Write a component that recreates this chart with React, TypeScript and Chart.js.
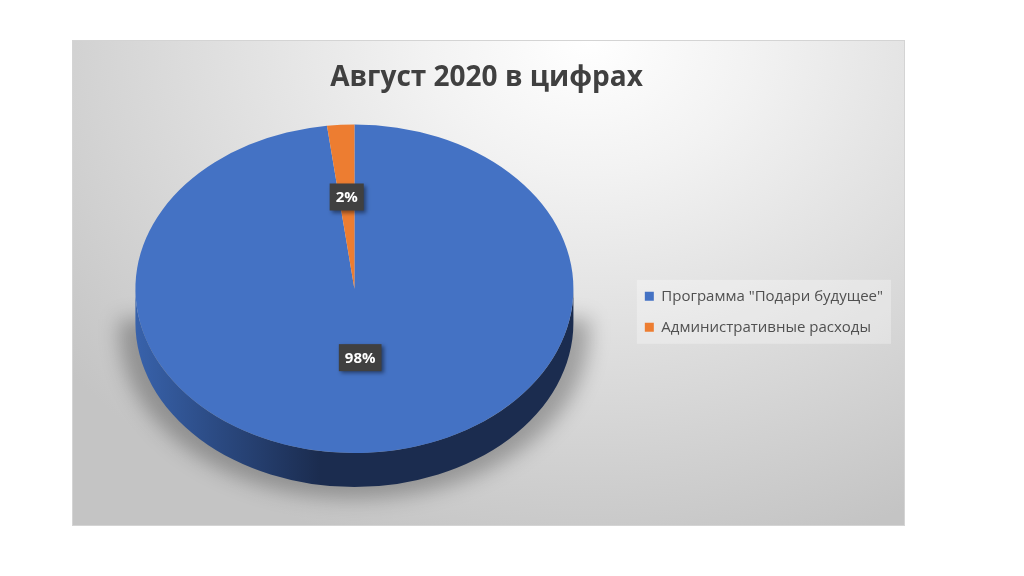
import { useEffect, useRef } from 'react';
import { Chart, PieController, ArcElement, Legend, Title } from 'chart.js';

Chart.register(PieController, ArcElement, Legend, Title);

const chartTitle = 'Август 2020 в цифрах';
const categories = ['Программа "Подари будущее"', 'Административные расходы'];
const values = [98, 2];
const colors = ['#4472C4', '#ED7D31'];
const sideLight = ['#3862ab', '#c0651f'];
const sideDark = ['#1b2c4f', '#7a3d12'];

// 3D look
const TILT = 0.75;
const DEPTH = 34;
const LABEL_POS = [0.42, 0.56];
const LEGEND_SHIFT = 23;

const pie3d = {
  id: 'pie3d',
  afterLayout(chart: any) {
    const lg = chart.legend;
    if (lg) {
      lg.top += LEGEND_SHIFT;
      lg.bottom += LEGEND_SHIFT;
    }
  },
  beforeDraw(chart: any) {
    const hb = chart.legend?.legendHitBoxes;
    if (!hb || !hb.length) return;
    const ctx = chart.ctx;
    const left = Math.min(...hb.map((b: any) => b.left)) - 8;
    const right = Math.max(...hb.map((b: any) => b.left + b.width)) + 8;
    const top = Math.min(...hb.map((b: any) => b.top)) - 9;
    const bottom = Math.max(...hb.map((b: any) => b.top + b.height)) + 9;
    ctx.save();
    ctx.fillStyle = 'rgba(255,255,255,0.3)';
    ctx.fillRect(left, top, right - left, bottom - top);
    ctx.restore();
  },
  beforeDatasetsDraw(chart: any) {
    const ctx = chart.ctx;
    const arcs = chart.getDatasetMeta(0).data as any[];
    if (!arcs.length) return;
    const { x: cx, y: cy, outerRadius: r } = arcs[0];
    const ry = r * TILT;

    // soft shadow under the pie (only below its middle)
    ctx.save();
    ctx.filter = 'blur(10px)';
    ctx.fillStyle = 'rgba(0,0,0,0.28)';
    ctx.beginPath();
    ctx.moveTo(cx - r - 16, cy + 30);
    ctx.lineTo(cx + r + 16, cy + 30);
    ctx.ellipse(cx, cy + DEPTH + 8, r + 16, ry + 4, 0, 0, Math.PI);
    ctx.closePath();
    ctx.fill();
    ctx.restore();

    // side walls (front half only)
    arcs.forEach((arc, i) => {
      for (const off of [-2 * Math.PI, 0, 2 * Math.PI]) {
        const s = Math.max(arc.startAngle, off);
        const e = Math.min(arc.endAngle, off + Math.PI);
        if (e <= s) continue;
        const g = ctx.createLinearGradient(cx - r, 0, cx + r, 0);
        g.addColorStop(0, sideLight[i]);
        g.addColorStop(0.42, sideDark[i]);
        g.addColorStop(1, sideDark[i]);
        ctx.beginPath();
        ctx.ellipse(cx, cy, r, ry, 0, s, e);
        ctx.ellipse(cx, cy + DEPTH, r, ry, 0, e, s, true);
        ctx.closePath();
        ctx.fillStyle = g;
        ctx.fill();
      }
    });

    // squash the top face into an ellipse
    ctx.save();
    ctx.translate(0, cy);
    ctx.scale(1, TILT);
    ctx.translate(0, -cy);
  },
  afterDatasetsDraw(chart: any) {
    const ctx = chart.ctx;
    const arcs = chart.getDatasetMeta(0).data as any[];
    if (!arcs.length) return;
    ctx.restore();
    const total = values.reduce((a, b) => a + b, 0);
    const { x: cx, y: cy, outerRadius: r } = arcs[0];
    arcs.forEach((arc, i) => {
      const mid = (arc.startAngle + arc.endAngle) / 2;
      const x = cx + Math.cos(mid) * r * LABEL_POS[i];
      const y = cy + Math.sin(mid) * r * LABEL_POS[i] * TILT;
      const text = Math.round((values[i] / total) * 100) + '%';
      ctx.save();
      ctx.font = 'bold 15px "Open Sans"';
      const w = ctx.measureText(text).width + 12;
      const h = 27;
      ctx.shadowColor = 'rgba(0,0,0,0.45)';
      ctx.shadowBlur = 4;
      ctx.shadowOffsetX = 2;
      ctx.shadowOffsetY = 2;
      ctx.fillStyle = '#404040';
      ctx.fillRect(x - w / 2, y - h / 2, w, h);
      ctx.shadowColor = 'transparent';
      ctx.fillStyle = '#ffffff';
      ctx.textAlign = 'center';
      ctx.textBaseline = 'middle';
      ctx.fillText(text, x, y + 1);
      ctx.restore();
    });
  },
};

export default function App() {
  const canvasRef = useRef<HTMLCanvasElement>(null);

  useEffect(() => {
    if (!canvasRef.current) return;
    const chart = new Chart(canvasRef.current, {
      type: 'pie',
      data: {
        labels: categories,
        datasets: [
          {
            data: values,
            backgroundColor: colors,
            borderWidth: 0,
            radius: 219,
            clip: false,
          } as any,
        ],
      },
      options: {
        animation: false,
        responsive: true,
        maintainAspectRatio: false,
        layout: { padding: { left: 7, right: 11, top: 0, bottom: 52 } },
        plugins: {
          title: {
            display: true,
            text: chartTitle,
            color: '#404040',
            font: { family: '"Open Sans"', size: 28, weight: 'bold' },
            padding: { top: 20, bottom: 10 },
          },
          legend: {
            position: 'right',
            fullSize: false,
            labels: {
              boxWidth: 9,
              boxHeight: 9,
              padding: 16,
              color: '#505050',
              font: { family: '"Open Sans"', size: 15 },
            },
          },
          tooltip: { enabled: false },
        },
      },
      plugins: [pie3d],
    });
    return () => chart.destroy();
  }, []);

  return (
    <div style={{ position: 'fixed', inset: 0, background: '#fff' }}>
      <div
        style={{
          position: 'absolute',
          left: 72,
          top: 40,
          width: 833,
          height: 486,
          border: '1px solid #d4d4d4',
          boxSizing: 'border-box',
          background:
            'radial-gradient(ellipse 80% 110% at 62% 0%, #ffffff 0%, #f2f2f2 25%, #c4c4c4 100%)',
        }}
      >
        <canvas ref={canvasRef} />
      </div>
    </div>
  );
}
